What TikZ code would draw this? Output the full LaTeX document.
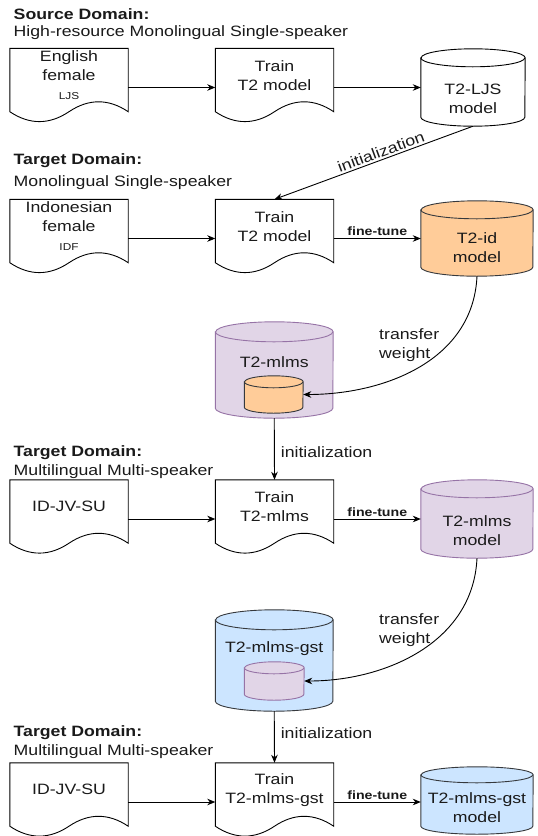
\documentclass[tikz,border=0pt]{standalone}
\usepackage{fontspec}
\setmainfont{Liberation Sans}[FakeStretch=1.18]
\usetikzlibrary{arrows.meta,fit,calc}
\definecolor{orangefill}{HTML}{FFCC99}
\definecolor{purplefill}{HTML}{E1D5E7}
\definecolor{purplestroke}{HTML}{9673A6}
\definecolor{bluefill}{HTML}{CCE5FF}
\definecolor{darkstroke}{HTML}{36393D}
\definecolor{txtcol}{HTML}{1A1A1A}

\newcommand{\docbox}[4]{% name, x-left, top, text
  \node[docn] (#1) at (#2+59,-#3-39) {};
  \draw[docline] (#1.north west) -- (#1.north east) -- ([yshift=15]#1.south east)
     .. controls +(-19.67,13.2) and +(19.67,13.2) .. ([yshift=15]#1.south)
     .. controls +(-19.67,-13.2) and +(19.67,-13.2) .. ([yshift=15]#1.south west) -- cycle;
  \node[txt] (#1t) at ([yshift=-27]#1.north) {#4};
}
\newcommand{\cylbox}[8]{% name, xl, xr, top, bottom, ry, fill, stroke
  \pgfmathsetmacro\myrx{(#3-#2)/2}
  \node[fit={(#2,-#4) (#3,-#5)}, inner sep=0pt] (#1) {};
  \draw[line width=0.9pt, draw=#8, fill=#7]
     ([yshift=-#6]#1.north west) -- ([yshift=#6]#1.south west)
     arc[start angle=180, end angle=360, x radius=\myrx, y radius=#6]
     -- ([yshift=-#6]#1.north east)
     arc[start angle=0, end angle=180, x radius=\myrx, y radius=#6] -- cycle;
  \draw[line width=0.9pt, draw=#8] ([yshift=-#6]#1.north west)
     arc[start angle=180, end angle=360, x radius=\myrx, y radius=#6];
}

\begin{document}
\begin{tikzpicture}[x=1pt,y=1pt,
  docn/.style={rectangle, draw=none, minimum width=118pt, minimum height=78pt, inner sep=0pt},
  docline/.style={line width=0.9pt, draw=black, fill=white},
  txt/.style={font=\fontsize{15}{19}\selectfont, text=txtcol, align=center, inner sep=0pt},
  small/.style={font=\fontsize{10}{12}\selectfont},
  title/.style={font=\fontsize{15}{19}\selectfont\bfseries, text=txtcol, anchor=west, inner sep=0pt},
  subtitle/.style={font=\fontsize{15}{19}\selectfont, text=txtcol, anchor=west, inner sep=0pt},
  arr/.style={line width=0.9pt, draw=black, -{Stealth[length=8pt,width=6.5pt,inset=2.5pt]}},
  ftlabel/.style={font=\fontsize{12}{14}\selectfont\bfseries, text=txtcol, inner sep=2pt},
  lab/.style={font=\fontsize{15}{19}\selectfont, text=txtcol, inner sep=0pt},
]
\useasboundingbox (0,0) rectangle (538,-836);
\fill[white] (0,0) rectangle (538,-836);

% ---------- Row 1 ----------
\node[title] (t1a) at (13.5,-13.7) {Source Domain:};
\node[subtitle] (t1b) at (13.5,-32.6) {High-resource Monolingual Single-speaker};
\docbox{a1}{10}{48.5}{English\\female\\{\fontsize{10}{17}\selectfont LJS}}
\docbox{b1}{215.5}{48.5}{Train\\T2 model}
\cylbox{c1}{421}{525}{49}{126}{9}{white}{black}
\node[txt] (c1t) at (473,-99) {T2-LJS\\model};
\draw[arr] (a1.east) -- (b1.west);
\draw[arr] (b1.east) -- (b1.east -| c1.west);

% ---------- Row 2 ----------
\node[title] (t2a) at (13.5,-160.6) {Target Domain:};
\node[subtitle] (t2b) at (13.5,-182.5) {Monolingual Single-speaker};
\docbox{a2}{10}{199.5}{Indonesian\\female\\{\fontsize{10}{17}\selectfont IDF}}
\docbox{b2}{215.5}{199.5}{Train\\T2 model}
\cylbox{c2}{421}{533}{201}{276}{9}{orangefill}{darkstroke}
\node[txt] (c2t) at (477,-247.5) {T2-id\\model};
\draw[arr] (a2.east) -- (b2.west);
\draw[arr] (b2.east) -- node[above, ftlabel] {fine-tune} (b2.east -| c2.west);
\draw[arr] (c1.south) -- node[pos=0.45, above=2pt, sloped, lab] {initialization} (b2.north);

% ---------- T2-mlms container ----------
\cylbox{m1}{215.5}{333}{322}{418}{10}{purplefill}{purplestroke}
\node[txt] (m1t) at (274.25,-362) {T2-mlms};
\cylbox{s1}{244.5}{303}{376}{413}{6}{orangefill}{darkstroke}
\draw[arr] (c2.south) .. controls +(-4,-85) and +(80,0) .. (s1.east);
\node[lab, anchor=west, align=left] (tw1) at (379,-345) {transfer\\weight};

% ---------- Row 3 ----------
\node[title] (t3a) at (13.5,-452.5) {Target Domain:};
\node[subtitle] (t3b) at (13.5,-471.5) {Multilingual Multi-speaker};
\docbox{a3}{10}{480}{ID-JV-SU}
\docbox{b3}{215.5}{480}{Train\\T2-mlms}
\cylbox{c3}{421}{533}{480}{558}{9}{purplefill}{purplestroke}
\node[txt] (c3t) at (477,-530.5) {T2-mlms\\model};
\draw[arr] (a3.east) -- (b3.west);
\draw[arr] (b3.east) -- node[above, ftlabel] {fine-tune} (b3.east -| c3.west);
\draw[arr] (m1.south) -- node[pos=0.55, right=6pt, lab] {initialization} (b3.north);

% ---------- T2-mlms-gst container ----------
\cylbox{g1}{215.5}{333}{610}{711}{10}{bluefill}{darkstroke}
\node[txt] (g1t) at (274.25,-649) {T2-mlms-gst};
\cylbox{s2}{244.5}{304}{662}{700}{6}{purplefill}{purplestroke}
\draw[arr] (c3.south) .. controls +(-4,-85) and +(80,0) .. (s2.east);
\node[lab, anchor=west, align=left] (tw2) at (379,-630) {transfer\\weight};

% ---------- Row 4 ----------
\node[title] (t4a) at (13.5,-733) {Target Domain:};
\node[subtitle] (t4b) at (13.5,-751.5) {Multilingual Multi-speaker};
\docbox{a4}{10}{763}{ID-JV-SU}
\docbox{b4}{215.5}{763}{Train\\T2-mlms-gst}
\cylbox{c4}{421}{533}{767}{834}{8}{bluefill}{darkstroke}
\node[txt] (c4t) at (477,-808) {T2-mlms-gst\\model};
\draw[arr] (a4.east) -- (b4.west);
\draw[arr] (b4.east) -- node[above, ftlabel] {fine-tune} (b4.east -| c4.west);
\draw[arr] (g1.south) -- node[pos=0.42, right=6pt, lab] {initialization} (b4.north);
\end{tikzpicture}
\end{document}
